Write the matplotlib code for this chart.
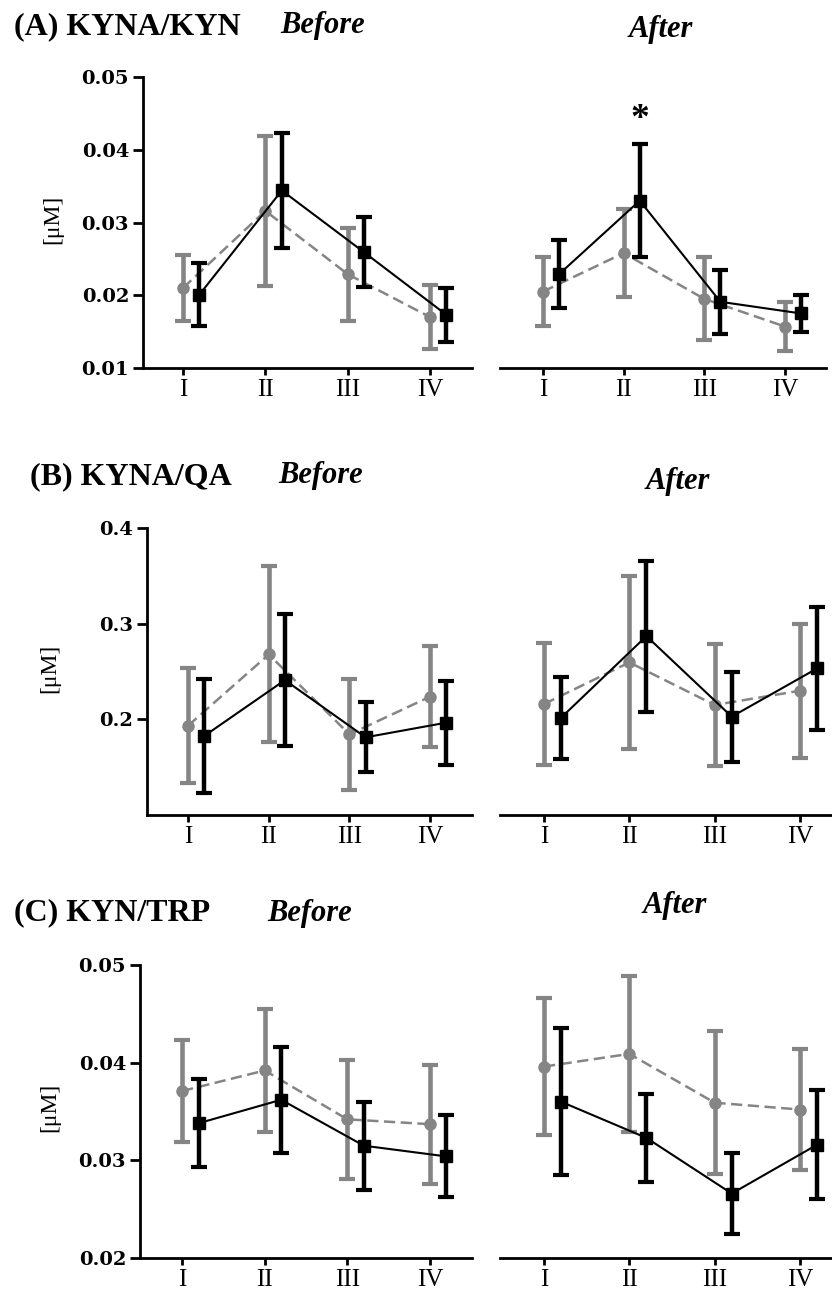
import matplotlib
matplotlib.use("Agg")
import matplotlib.pyplot as plt

# groups on the x axis
groups = ["I", "II", "III", "IV"]

# (A) KYNA/KYN, uM
a_before_gray = [0.0210, 0.0316, 0.0229, 0.0170]
a_before_gray_err = [0.0045, 0.0103, 0.0064, 0.0044]
a_before_black = [0.0201, 0.0344, 0.0259, 0.0173]
a_before_black_err = [0.0043, 0.0079, 0.0048, 0.0037]
a_after_gray = [0.0205, 0.0258, 0.0195, 0.0157]
a_after_gray_err = [0.0047, 0.0060, 0.0057, 0.0034]
a_after_black = [0.0229, 0.0330, 0.0191, 0.0175]
a_after_black_err = [0.0047, 0.0078, 0.0044, 0.0026]

# (B) KYNA/QA
b_before_gray = [0.1934, 0.2678, 0.1843, 0.2237]
b_before_gray_err = [0.060, 0.092, 0.058, 0.053]
b_before_black = [0.1826, 0.2410, 0.1812, 0.1965]
b_before_black_err = [0.060, 0.069, 0.0365, 0.044]
b_after_gray = [0.2160, 0.2595, 0.2150, 0.2299]
b_after_gray_err = [0.0635, 0.090, 0.064, 0.070]
b_after_black = [0.2017, 0.2870, 0.2028, 0.2532]
b_after_black_err = [0.043, 0.079, 0.047, 0.064]

# (C) KYN/TRP
c_before_gray = [0.0371, 0.0392, 0.0342, 0.0337]
c_before_gray_err = [0.0052, 0.0063, 0.0061, 0.0061]
c_before_black = [0.0338, 0.0362, 0.0315, 0.0304]
c_before_black_err = [0.0045, 0.0054, 0.0045, 0.0042]
c_after_gray = [0.0396, 0.0409, 0.0359, 0.0352]
c_after_gray_err = [0.0070, 0.0080, 0.0073, 0.0062]
c_after_black = [0.0360, 0.0323, 0.0266, 0.0316]
c_after_black_err = [0.0075, 0.0045, 0.0041, 0.0056]

W, H = 832, 1293
GRAY = "#858585"
SERIF = "Liberation Serif"

fig = plt.figure(figsize=(W / 100, H / 100), dpi=100)


def px_axes(x0, x1, ytop, ybot):
    return fig.add_axes([x0 / W, 1 - ybot / H, (x1 - x0) / W, (ybot - ytop) / H])


def draw(ax, gray, gray_err, black, black_err, xlim, ylim, yticks=None):
    x = list(range(1, len(groups) + 1))
    xb = [v + 0.2 for v in x]
    ax.errorbar(x, gray, yerr=gray_err, color=GRAY, ecolor=GRAY, elinewidth=3.3,
                capsize=6, capthick=3.0, marker="o", ms=8, lw=1.8,
                dashes=(4.5, 2.2), zorder=2)
    ax.errorbar(xb, black, yerr=black_err, color="black", ecolor="black",
                elinewidth=3.2, capsize=6, capthick=3.0, marker="s", ms=9,
                lw=1.5, zorder=3)
    ax.set_xlim(*xlim)
    ax.set_ylim(*ylim)
    ax.set_xticks(x)
    ax.set_xticklabels(groups, fontfamily=SERIF, fontsize=18)
    ax.spines[["top", "right"]].set_visible(False)
    ax.spines["bottom"].set_linewidth(2.0)
    ax.tick_params(axis="x", length=5, width=2.0, pad=3)
    if yticks is None:
        ax.spines["left"].set_visible(False)
        ax.set_yticks([])
    else:
        ax.spines["left"].set_linewidth(2.0)
        ax.set_yticks(yticks)
        ax.set_yticklabels([f"{t:g}" for t in yticks], fontfamily="DejaVu Serif",
                           fontweight="bold", fontsize=14)
        ax.tick_params(axis="y", length=7, width=2.0, pad=3)
    ax.patch.set_alpha(0)


# row A
ax = px_axes(143, 472, 77, 368)
draw(ax, a_before_gray, a_before_gray_err, a_before_black, a_before_black_err,
     (0.514, 4.51), (0.01, 0.05), [0.01, 0.02, 0.03, 0.04, 0.05])
ax = px_axes(500, 826, 77, 368)
draw(ax, a_after_gray, a_after_gray_err, a_after_black, a_after_black_err,
     (0.467, 4.51), (0.01, 0.05))
ax.text(2.2, 0.0442, "*", ha="center", va="center", fontsize=27,
        fontweight="bold", fontfamily=SERIF)

# row B
ax = px_axes(147, 472, 528, 815)
draw(ax, b_before_gray, b_before_gray_err, b_before_black, b_before_black_err,
     (0.49, 4.52), (0.1, 0.4), [0.2, 0.3, 0.4])
ax = px_axes(500, 832, 528, 815)
draw(ax, b_after_gray, b_after_gray_err, b_after_black, b_after_black_err,
     (0.484, 4.375), (0.1, 0.4))

# row C
ax = px_axes(140, 472, 965, 1258)
draw(ax, c_before_gray, c_before_gray_err, c_before_black, c_before_black_err,
     (0.49, 4.51), (0.02, 0.05), [0.02, 0.03, 0.04, 0.05])
ax = px_axes(500, 832, 965, 1258)
draw(ax, c_after_gray, c_after_gray_err, c_after_black, c_after_black_err,
     (0.484, 4.375), (0.02, 0.05))

# titles and y labels
def ftext(x, y, s, **kw):
    fig.text(x / W, 1 - y / H, s, fontfamily=SERIF, **kw)


ftext(14, 27, "(A) KYNA/KYN", fontsize=23, fontweight="bold", va="center")
ftext(280, 25, "Before", fontsize=22, fontweight="bold", fontstyle="italic", va="center")
ftext(661, 30, "After", fontsize=22, fontweight="bold", fontstyle="italic",
      va="center", ha="center")
ftext(30, 477, "(B) KYNA/QA", fontsize=23, fontweight="bold", va="center")
ftext(278, 476, "Before", fontsize=22, fontweight="bold", fontstyle="italic", va="center")
ftext(678, 482, "After", fontsize=22, fontweight="bold", fontstyle="italic",
      va="center", ha="center")
ftext(14, 913, "(C) KYN/TRP", fontsize=23, fontweight="bold", va="center")
ftext(267, 913, "Before", fontsize=22, fontweight="bold", fontstyle="italic", va="center")
ftext(675, 905, "After", fontsize=22, fontweight="bold", fontstyle="italic",
      va="center", ha="center")

for yc, xc in [(219, 53), (668, 50), (1107, 50)]:
    ftext(xc, yc, "[μM]", fontsize=17, rotation=90, va="center", ha="center")

fig.savefig("out.png", dpi=100)
